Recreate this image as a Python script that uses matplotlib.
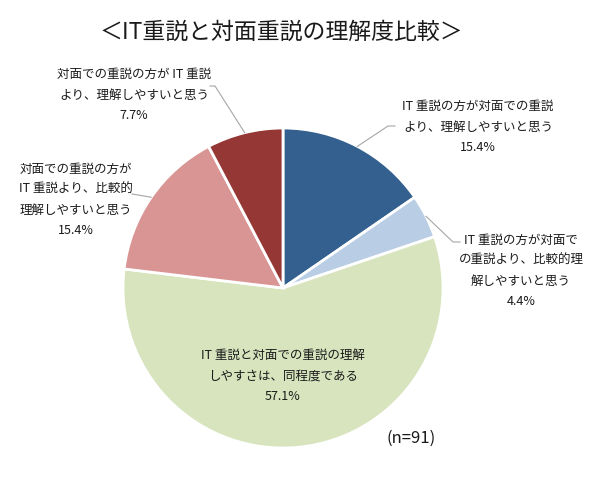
import numpy as np
import matplotlib
matplotlib.use("Agg")
import matplotlib.pyplot as plt

plt.rcParams['font.family'] = ['Noto Sans CJK JP', 'DejaVu Sans']

# data (clockwise from 12 o'clock)
labels = [
    "IT 重説の方が対面での重説\nより、理解しやすいと思う",
    "IT 重説の方が対面で\nの重説より、比較的理\n解しやすいと思う",
    "IT 重説と対面での重説の理解\nしやすさは、同程度である",
    "対面での重説の方が\nIT 重説より、比較的\n理解しやすいと思う",
    "対面での重説の方が IT 重説\nより、理解しやすいと思う",
]
shares = [15.4, 4.4, 57.1, 15.4, 7.7]
colors = ['#34608F', '#B9CDE5', '#D7E4BD', '#D99594', '#953735']

title = "＜IT重説と対面重説の理解度比較＞"
note = "(n=91)"

fig = plt.figure(figsize=(6, 5), dpi=100)
ax = fig.add_axes([0, 0, 1, 1])
ax.set_xlim(0, 600)
ax.set_ylim(0, 500)
ax.set_aspect('equal')
ax.axis('off')

cx, cy, r = 283, 212, 160
wedges, _ = ax.pie(shares, colors=colors, startangle=90, counterclock=False,
                   center=(cx, cy), radius=r,
                   wedgeprops=dict(edgecolor='white', linewidth=2))
ax.set_xlim(0, 600)
ax.set_ylim(0, 500)

# label positions (center of text block) and elbow of leader line
label_pos = [(478, 373), (521, 229), (283, 124), (76, 300), (134, 405)]
elbows = [[(388, 374), (395, 374)],
          [(453, 258), (460, 258)],
          None,
          [(132, 306)],
          [(215, 414), (210, 414)]]

for w, lab, val, pos, elb in zip(wedges, labels, shares, label_pos, elbows):
    ax.text(pos[0], pos[1], f"{lab}\n{val:.1f}%", ha='center', va='center',
            fontsize=9, linespacing=1.75, color='#1a1a1a')
    if elb is None:
        continue
    mid = np.deg2rad((w.theta1 + w.theta2) / 2)
    px, py = cx + r * np.cos(mid), cy + r * np.sin(mid)
    xs = [px] + [p[0] for p in elb]
    ys = [py] + [p[1] for p in elb]
    ax.plot(xs, ys, color='#A6A6A6', linewidth=0.8)

ax.text(281, 468, title, ha='center', va='center', fontsize=16.5, color='#1a1a1a')
ax.text(411, 62, note, ha='center', va='center', fontsize=12, color='#1a1a1a')

fig.savefig('out.png', dpi=100)
